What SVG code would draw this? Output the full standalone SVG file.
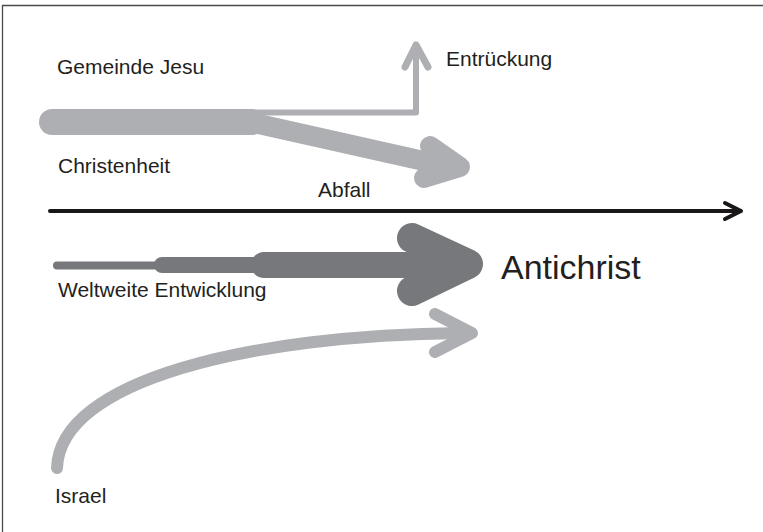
<svg xmlns="http://www.w3.org/2000/svg" width="763" height="532" viewBox="0 0 763 532">
<style>
text{font-family:"Liberation Sans",Arial,sans-serif;fill:#231F20;font-size:21px}
.lg{fill:none;stroke:#AEAFB2;stroke-linecap:round;stroke-linejoin:round}
.dg{fill:none;stroke:#77787B;stroke-linecap:round;stroke-linejoin:round}
.bk{fill:none;stroke:#1A1718;stroke-linecap:round;stroke-linejoin:round}
</style>
<rect width="763" height="532" fill="#fff"/>
<path d="M2.5,532 V5.5 H763" fill="none" stroke="#4a4a4a" stroke-width="1.3"/>
<g id="connectors">
  <!-- timeline -->
  <line class="bk" x1="50" y1="211" x2="740" y2="211" stroke-width="4"/>
  <polyline class="bk" points="725,203 741,211 725,219" stroke-width="4"/>
  <!-- Entrückung -->
  <polyline class="lg" points="250,112.5 416,112.5 416,47" stroke-width="6"/>
  <polyline class="lg" points="405,67 416,45 428,67" stroke-width="7"/>
  <!-- Christenheit / Abfall -->
  <line class="lg" x1="52" y1="122" x2="252" y2="122" stroke-width="26"/>
  <line class="lg" x1="250" y1="122" x2="455" y2="168" stroke-width="20"/>
  <polyline class="lg" points="430,146 460,167 424,178" stroke-width="20"/>
  <!-- Weltweite Entwicklung -->
  <line class="dg" x1="57" y1="265.5" x2="160" y2="265.5" stroke-width="8"/>
  <line class="dg" x1="162" y1="265" x2="262" y2="265" stroke-width="16"/>
  <line class="dg" x1="264" y1="265" x2="460" y2="265" stroke-width="26"/>
  <polyline class="dg" points="412,238 468,264 412,291" stroke-width="30"/>
  <!-- Israel -->
  <path class="lg" d="M57,468 C60,380 250,335 462,333" stroke-width="12"/>
  <polyline class="lg" points="435,314 472,333 435,352" stroke-width="12"/>
</g>
<g id="gemeinde-jesu"><text x="57" y="74">Gemeinde Jesu</text></g>
<g id="entrueckung"><text x="446" y="66">Entrückung</text></g>
<g id="christenheit"><text x="58" y="173">Christenheit</text></g>
<g id="abfall"><text x="318" y="197">Abfall</text></g>
<g id="antichrist"><text x="501" y="279" style="font-size:34px">Antichrist</text></g>
<g id="weltweite-entwicklung"><text x="58" y="297">Weltweite Entwicklung</text></g>
<g id="israel"><text x="55" y="503">Israel</text></g>
</svg>
